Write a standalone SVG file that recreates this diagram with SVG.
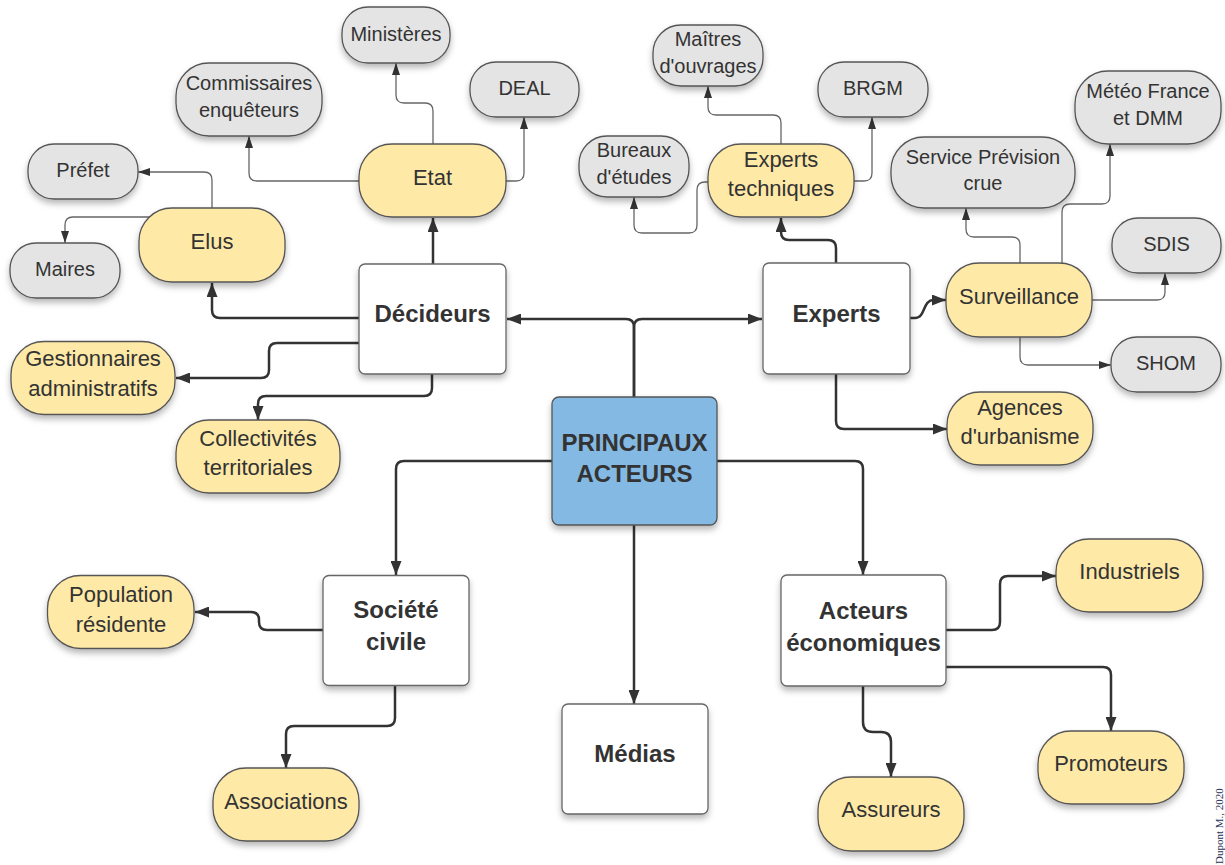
<svg xmlns="http://www.w3.org/2000/svg" width="1225" height="865" viewBox="0 0 1225 865">
<defs>
<filter id="sh" x="-20%" y="-20%" width="140%" height="150%">
<feDropShadow dx="0" dy="4" stdDeviation="3" flood-color="#000" flood-opacity="0.28"/>
</filter>
<marker id="ab" markerUnits="userSpaceOnUse" markerWidth="14" markerHeight="11" refX="14" refY="5.5" orient="auto" viewBox="0 0 14 11">
<path d="M0,0 L14,5.5 L0,11 z" fill="#333"/>
</marker>
<marker id="as" markerUnits="userSpaceOnUse" markerWidth="12" markerHeight="8" refX="12" refY="4" orient="auto" viewBox="0 0 12 8">
<path d="M0,0 L12,4 L0,8 z" fill="#333"/>
</marker>
<style>
.y{fill:#FEE9A6;stroke:#555;stroke-width:1.3;filter:url(#sh)}
.g{fill:#E4E4E4;stroke:#555;stroke-width:1.3;filter:url(#sh)}
.w{fill:#FFFFFF;stroke:#666;stroke-width:1.3;filter:url(#sh)}
.b{fill:#84B9E4;stroke:#555;stroke-width:1.3;filter:url(#sh)}
.ty{font-family:"Liberation Sans",Arial,sans-serif;font-size:22px;fill:#333;text-anchor:middle}
.tg{font-family:"Liberation Sans",Arial,sans-serif;font-size:20px;fill:#333;text-anchor:middle}
.tb{font-family:"Liberation Sans",Arial,sans-serif;font-size:24px;font-weight:bold;fill:#333;text-anchor:middle}
.ck{fill:none;stroke:#333;stroke-width:2.5;marker-end:url(#ab)}
.cn{fill:none;stroke:#666;stroke-width:1.3;marker-end:url(#as)}
</style>
</defs>
<rect width="1225" height="865" fill="#FFFFFF"/>

<g id="connectors">
<path class="ck" d="M634,397 V327 Q634,319 626,319 H507"/>
<path class="ck" d="M634,397 V327 Q634,319 642,319 H762"/>
<path class="ck" d="M552,461 H404 Q396,461 396,469 V575"/>
<path class="ck" d="M717,461 H855 Q863,461 863,469 V575"/>
<path class="ck" d="M634,525 V704"/>
<path class="ck" d="M433,264 V218"/>
<path class="ck" d="M359,318 H220 Q212,318 212,310 V283"/>
<path class="ck" d="M359,343 H277 Q269,343 269,351 V370 Q269,378 261,378 H176"/>
<path class="ck" d="M432,374 V388 Q432,396 424,396 H266 Q258,396 258,404 V420"/>
<path class="ck" d="M836,263 V248 Q836,240 828,240 H789 Q781,240 781,232 V218"/>
<path class="ck" d="M910,318 H915 C926,318 922,300 934,300 H946"/>
<path class="ck" d="M836,374 V421 Q836,429 844,429 H947"/>
<path class="ck" d="M323,630 H267 Q259,630 259,622 V620 Q259,612 251,612 H195"/>
<path class="ck" d="M395,686 V718 Q395,726 387,726 H294 Q286,726 286,734 V768"/>
<path class="ck" d="M946,630 H992 Q1000,630 1000,622 V584 Q1000,576 1008,576 H1056"/>
<path class="ck" d="M946,667 H1103 Q1111,667 1111,675 V731"/>
<path class="ck" d="M863,686 V722 Q863,732 873,732 H881 Q891,732 891,742 V777"/>

<path class="cn" d="M433,144 V111 Q433,103 425,103 H404 Q396,103 396,95 V63"/>
<path class="cn" d="M359,181 H257 Q249,181 249,173 V136"/>
<path class="cn" d="M506,181 H516 Q524,181 524,173 V117"/>
<path class="cn" d="M212,208 V180 Q212,172 204,172 H138"/>
<path class="cn" d="M150,217 H73 Q65,217 65,225 V243"/>
<path class="cn" d="M781,144 V123 Q781,115 773,115 H716 Q708,115 708,107 V86"/>
<path class="cn" d="M854,181 H864 Q872,181 872,173 V117"/>
<path class="cn" d="M708,182 H705 Q697,182 697,190 V225 Q697,233 689,233 H642 Q634,233 634,225 V197"/>
<path class="cn" d="M1020,263 V245 Q1020,237 1012,237 H974 Q966,237 966,229 V208"/>
<path class="cn" d="M1062,263 V212 Q1062,204 1070,204 H1102 Q1110,204 1110,196 V144"/>
<path class="cn" d="M1092,300 H1157 Q1165,300 1165,292 V273"/>
<path class="cn" d="M1020,337 V357 Q1020,365 1028,365 H1111"/>
</g>

<g id="principaux"><rect class="b" x="552" y="397" width="165" height="128" rx="7"/><text class="tb" x="634.5" y="451">PRINCIPAUX</text><text class="tb" x="634.5" y="482">ACTEURS</text></g>
<g id="decideurs"><rect class="w" x="359" y="264" width="147" height="110" rx="6"/><text class="tb" x="432.5" y="322">Décideurs</text></g>
<g id="experts"><rect class="w" x="763" y="263" width="147" height="111" rx="6"/><text class="tb" x="836.5" y="322">Experts</text></g>
<g id="societe"><rect class="w" x="323" y="575.5" width="146" height="110" rx="6"/><text class="tb" x="396" y="618">Société</text><text class="tb" x="396" y="650">civile</text></g>
<g id="acteurs"><rect class="w" x="781" y="575" width="165" height="111" rx="6"/><text class="tb" x="863.5" y="619">Acteurs</text><text class="tb" x="863.5" y="651">économiques</text></g>
<g id="medias"><rect class="w" x="562" y="704" width="146" height="110" rx="6"/><text class="tb" x="635" y="762">Médias</text></g>

<g id="etat"><rect class="y" x="359" y="144" width="147" height="73" rx="33"/><text class="ty" x="432.5" y="185">Etat</text></g>
<g id="elus"><rect class="y" x="139" y="208" width="146" height="74" rx="33"/><text class="ty" x="212" y="249">Elus</text></g>
<g id="gestionnaires"><rect class="y" x="11" y="341.5" width="164" height="73" rx="33"/><text class="ty" x="93" y="366">Gestionnaires</text><text class="ty" x="93" y="395.5">administratifs</text></g>
<g id="collectivites"><rect class="y" x="176" y="420" width="164" height="73" rx="33"/><text class="ty" x="258" y="445.5">Collectivités</text><text class="ty" x="258" y="475">territoriales</text></g>
<g id="experts-techniques"><rect class="y" x="708" y="144" width="146" height="73" rx="33"/><text class="ty" x="781" y="167">Experts</text><text class="ty" x="781" y="195.5">techniques</text></g>
<g id="surveillance"><rect class="y" x="946" y="263" width="146" height="74" rx="33"/><text class="ty" x="1019" y="304">Surveillance</text></g>
<g id="agences"><rect class="y" x="947" y="392" width="146" height="73" rx="33"/><text class="ty" x="1020" y="415">Agences</text><text class="ty" x="1020" y="444">d'urbanisme</text></g>
<g id="population"><rect class="y" x="47.5" y="575.5" width="146.5" height="73" rx="33"/><text class="ty" x="121" y="602">Population</text><text class="ty" x="121" y="631.5">résidente</text></g>
<g id="associations"><rect class="y" x="213" y="768" width="146" height="73" rx="33"/><text class="ty" x="286" y="808.5">Associations</text></g>
<g id="industriels"><rect class="y" x="1056" y="539" width="147" height="73" rx="33"/><text class="ty" x="1129.5" y="579">Industriels</text></g>
<g id="promoteurs"><rect class="y" x="1038" y="731" width="146" height="73" rx="33"/><text class="ty" x="1111" y="771">Promoteurs</text></g>
<g id="assureurs"><rect class="y" x="818" y="777" width="146" height="74" rx="33"/><text class="ty" x="891" y="817">Assureurs</text></g>

<g id="ministeres"><rect class="g" x="342" y="7" width="108" height="56" rx="26"/><text class="tg" x="396" y="41">Ministères</text></g>
<g id="commissaires"><rect class="g" x="176" y="63" width="146" height="73" rx="33"/><text class="tg" x="249" y="90">Commissaires</text><text class="tg" x="249" y="116.5">enquêteurs</text></g>
<g id="deal"><rect class="g" x="470" y="62" width="109" height="55" rx="26"/><text class="tg" x="524.5" y="94.5">DEAL</text></g>
<g id="prefet"><rect class="g" x="28" y="144" width="110" height="55" rx="26"/><text class="tg" x="83" y="176.5">Préfet</text></g>
<g id="maires"><rect class="g" x="10" y="243" width="110" height="55" rx="26"/><text class="tg" x="65" y="275.5">Maires</text></g>
<g id="maitres"><rect class="g" x="653" y="25" width="110" height="61" rx="28"/><text class="tg" x="708" y="46">Maîtres</text><text class="tg" x="708" y="72.5">d'ouvrages</text></g>
<g id="brgm"><rect class="g" x="818" y="62" width="110" height="55" rx="26"/><text class="tg" x="873" y="94.5">BRGM</text></g>
<g id="bureaux"><rect class="g" x="579" y="136" width="110" height="61" rx="28"/><text class="tg" x="634" y="157">Bureaux</text><text class="tg" x="634" y="184">d'études</text></g>
<g id="service-prevision"><rect class="g" x="891" y="137" width="184" height="71" rx="33"/><text class="tg" x="983" y="163.5">Service Prévision</text><text class="tg" x="983" y="190">crue</text></g>
<g id="meteo"><rect class="g" x="1075" y="71" width="146" height="73" rx="33"/><text class="tg" x="1148" y="98">Météo France</text><text class="tg" x="1148" y="124.5">et DMM</text></g>
<g id="sdis"><rect class="g" x="1112" y="218" width="109" height="55" rx="26"/><text class="tg" x="1166.5" y="250.5">SDIS</text></g>
<g id="shom"><rect class="g" x="1111" y="337" width="110" height="55" rx="26"/><text class="tg" x="1166" y="369.5">SHOM</text></g>

<text transform="translate(1223,864) rotate(-90)" font-family="'Liberation Serif','Times New Roman',serif" font-size="11" fill="#1F2F55">Dupont M., 2020</text>
</svg>
